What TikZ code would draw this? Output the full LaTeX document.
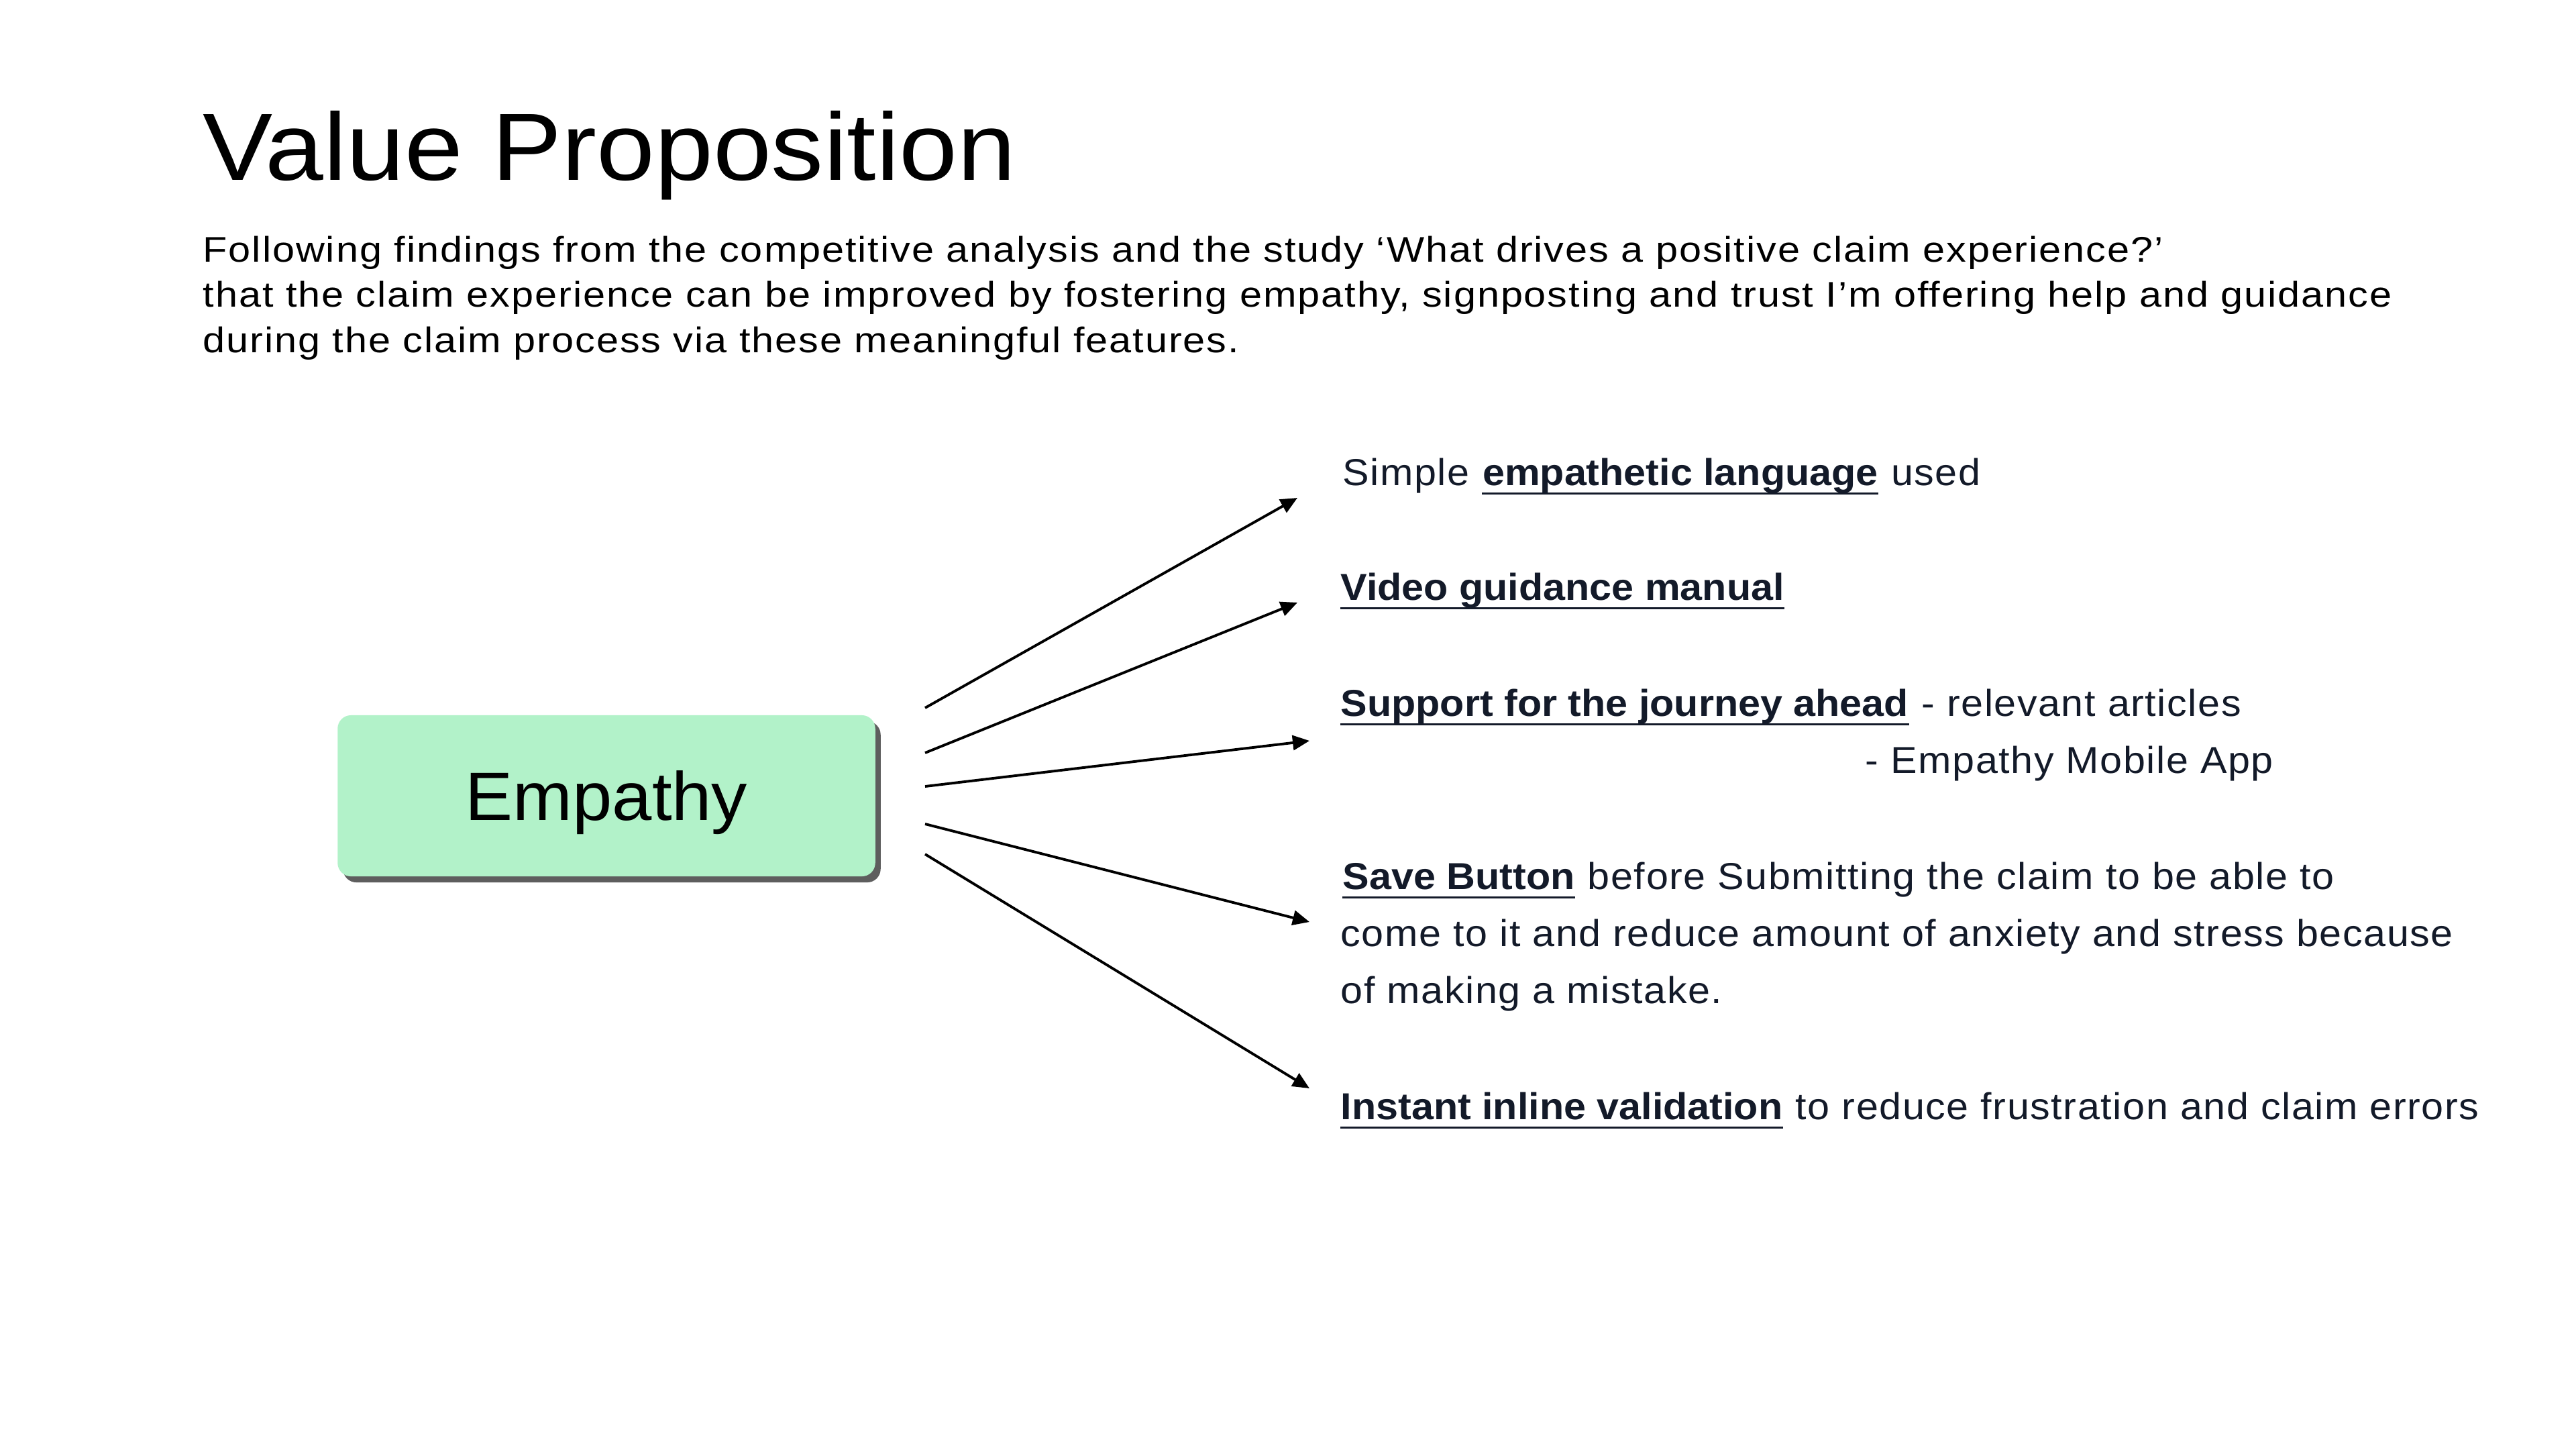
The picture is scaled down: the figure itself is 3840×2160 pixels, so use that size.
\documentclass[tikz,border=0pt]{standalone}
\usepackage{fontspec}
\setmainfont{Liberation Sans}[FakeStretch=1.06]
\newfontfamily\titlefont{Liberation Sans}[FakeStretch=1.096]
\newfontfamily\boxfont{Liberation Sans}[FakeStretch=1.045]
\newfontfamily\introfont{Liberation Sans}[FakeStretch=1.12, LetterSpace=3.6]
\newfontfamily\itemfont{Liberation Sans}[FakeStretch=1.06, LetterSpace=2.8]
\newfontfamily\itemboldfont{Liberation Sans Bold}[FakeStretch=1.06]
\usetikzlibrary{arrows.meta,shadows}
\definecolor{ink}{HTML}{131A29}
\definecolor{mint}{HTML}{B2F2C9}
\definecolor{shade}{HTML}{5E5E5E}
\tikzset{
  txt/.style={inner sep=0pt, anchor=base west},
  headline/.style={txt, font=\titlefont\fontsize{40.5}{48}\selectfont, text=black},
  intro/.style={txt, font=\introfont\fontsize{15.1}{19.2}\selectfont, text=black},
  item/.style={txt, font=\itemfont\fontsize{15.9}{24.2}\selectfont, text=ink},
  itemb/.style={txt, font=\itemboldfont\fontsize{15.9}{24.2}\selectfont, text=ink},
  uline/.style={line width=0.85pt, ink},
  hub/.style={rounded corners=0.2cm, fill=mint, draw=none,
    minimum width=8.01cm, minimum height=2.4cm, inner sep=0pt,
    text height=0.73cm, text depth=0cm,
    font=\boxfont\fontsize{29}{34}\selectfont, text=black,
    drop shadow={shadow xshift=0.08cm, shadow yshift=-0.09cm, fill=shade, opacity=1}},
  link/.style={line width=1.1pt, black, -{Triangle[length=0.25cm, width=0.22cm]}}
}
\newcommand\underrule[1]{\draw[uline] ([yshift=-0.12cm]#1.base west) -- ([yshift=-0.12cm]#1.base east);}
\begin{document}
\begin{tikzpicture}[x=0.01cm, y=-0.01cm]
\useasboundingbox[fill=white] (0,0) rectangle (3840,2160);
% title and introduction
\node[headline] (title) at (302,268) {Value Proposition};
\node[intro] (p1) at (302,390) {Following findings from the competitive analysis and the study ‘What drives a positive claim experience?’};
\node[intro] (p2) at (302,457) {that the claim experience can be improved by fostering empathy, signposting and trust I’m offering help and guidance};
\node[intro] (p3) at (302,525) {during the claim process via these meaningful features.};
% hub
\node[hub] (emp) at (904,1186) {Empathy};
% items
\node[item] (r1a) at (2001,723) {Simple\ \null};
\node[itemb] (r1b) at (r1a.base east) {empathetic language};
\node[item] (r1c) at (r1b.base east) {\ used};
\node[itemb] (r2) at (1998,894) {Video guidance manual};
\node[itemb] (r3a) at (1998,1067) {Support for the journey ahead};
\node[item] (r3b) at (r3a.base east) {\ - relevant articles};
\node[item] (r3c) at (2780,1152) {- Empathy Mobile App};
\node[itemb] (r4a) at (2001,1325) {Save Button};
\node[item] (r4b) at (r4a.base east) {\ before Submitting the claim to be able to};
\node[item] (r4c) at (1998,1410) {come to it and reduce amount of anxiety and stress because};
\node[item] (r4d) at (1998,1495) {of making a mistake.};
\node[itemb] (r5a) at (1998,1668) {Instant inline validation};
\node[item] (r5b) at (r5a.base east) {\ to reduce frustration and claim errors};
\underrule{r1b}
\underrule{r2}
\underrule{r3a}
\underrule{r4a}
\underrule{r5a}
% connector ends
\coordinate (s1) at (1379,1055);
\coordinate (s2) at (1379,1122);
\coordinate (s3) at (1379,1172);
\coordinate (s4) at (1379,1228);
\coordinate (s5) at (1379,1273);
\coordinate (e1) at (1934,742);
\coordinate (e2) at (1934,898);
\coordinate (e3) at (1952,1104);
\coordinate (e4) at (1952,1374);
\coordinate (e5) at (1952,1622);
\draw[link] (s1) -- (e1);
\draw[link] (s2) -- (e2);
\draw[link] (s3) -- (e3);
\draw[link] (s4) -- (e4);
\draw[link] (s5) -- (e5);
\end{tikzpicture}
\end{document}
